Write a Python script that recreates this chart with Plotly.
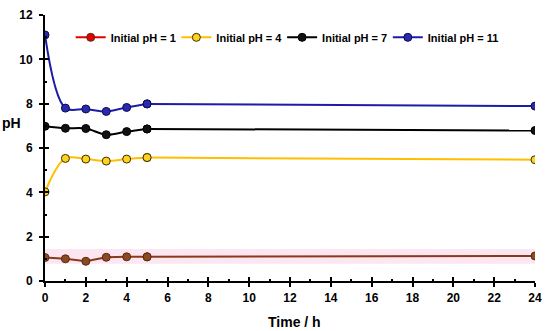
import plotly.graph_objects as go

time_h = [0, 1, 2, 3, 4, 5, 24]
ph_1 = [1.06, 1.00, 0.89, 1.07, 1.09, 1.09, 1.13]
ph_4 = [4.02, 5.53, 5.50, 5.41, 5.50, 5.57, 5.47]
ph_7 = [6.98, 6.89, 6.88, 6.60, 6.74, 6.86, 6.79]
ph_11 = [11.10, 7.80, 7.76, 7.65, 7.83, 7.99, 7.89]
series_names = ["Initial pH = 1", "Initial pH = 4", "Initial pH = 7", "Initial pH = 11"]
band_x = [0, 24]
band_low = [0.78, 0.78]
band_high = [1.44, 1.44]
x_ticks = list(range(0, 25, 2))
y_ticks = list(range(0, 13, 2))

FONT = "Liberation Sans, Arial, sans-serif"
SPLIT = 6  # index after the last densely sampled point (t = 5 h)

fig = go.Figure()

# pink band (on base axes, below data)
fig.add_trace(go.Scatter(x=band_x, y=band_low, mode="lines", line=dict(width=0),
                         showlegend=False, hoverinfo="skip"))
fig.add_trace(go.Scatter(x=band_x, y=band_high, mode="lines", line=dict(width=0),
                         fill="tonexty", fillcolor="#fce6f2", showlegend=False, hoverinfo="skip"))

styles = [
    # values, legend colour, line colour, marker fill, marker outline, shape
    (ph_1, "#e00000", "#8a3a1a", "#8a4a22", "#5a2a10", "linear"),
    (ph_4, "#ffbf00", "#ffbf00", "#ffd21f", "#3a3000", "spline"),
    (ph_7, "#000000", "#000000", "#111111", "#000000", "spline"),
    (ph_11, "#1c1ca6", "#1c1ca6", "#2a2ab0", "#0a0a50", "spline"),
]
legend_ids = ["legend", "legend2", "legend3", "legend4"]
for (vals, legc, lc, mc, oc, shape), name, lid in zip(styles, series_names, legend_ids):
    fig.add_trace(go.Scatter(
        x=[None], y=[None], name="<b>" + name + "</b>", mode="lines+markers",
        line=dict(color=legc, width=2), legend=lid,
        marker=dict(size=8, color=legc if legc == "#e00000" else mc, line=dict(color=oc, width=1)),
        xaxis="x2", yaxis="y2", hoverinfo="skip",
    ))
    fig.add_trace(go.Scatter(
        x=time_h[:SPLIT], y=vals[:SPLIT], name=name, mode="lines+markers", showlegend=False,
        line=dict(color=lc, width=2, shape=shape, smoothing=1),
        marker=dict(size=8, color=mc, line=dict(color=oc, width=1)),
        xaxis="x2", yaxis="y2",
    ))
    fig.add_trace(go.Scatter(
        x=time_h[SPLIT - 1:], y=vals[SPLIT - 1:], name=name, mode="lines+markers", showlegend=False,
        line=dict(color=lc, width=2),
        marker=dict(size=8, color=mc, line=dict(color=oc, width=1)),
        xaxis="x2", yaxis="y2",
    ))

line_common = dict(showgrid=False, zeroline=False, showline=True, linecolor="black",
                   linewidth=2, tickcolor="black", tickwidth=2)

leg_common = dict(orientation="h", y=0.916, xanchor="left", yanchor="middle",
                  bgcolor="rgba(0,0,0,0)", font=dict(family=FONT, size=11, color="black"))

fig.update_layout(
    width=550, height=331,
    margin=dict(l=45, r=9, t=8, b=50),
    paper_bgcolor="white", plot_bgcolor="white",
    font=dict(family=FONT, size=12, color="black"),
    xaxis=dict(range=[0, 24], tickvals=x_ticks, ticktext=[f"<b>{v}</b>" for v in x_ticks],
               ticks="outside", ticklen=4, ticklabelstandoff=1,
               tickfont=dict(family=FONT, size=12, color="black"), **line_common),
    yaxis=dict(range=[0, 12], tickvals=y_ticks, ticktext=[f"<b>{v}</b>" for v in y_ticks],
               ticks="outside", ticklen=4, ticklabelstandoff=4,
               tickfont=dict(family=FONT, size=12, color="black"), **line_common),
    xaxis2=dict(range=[0, 24], overlaying="x", tickvals=x_ticks, ticks="inside", ticklen=4,
                showticklabels=False,
                minor=dict(ticks="inside", ticklen=2, dtick=1, tickcolor="black", tickwidth=2),
                **line_common),
    yaxis2=dict(range=[0, 12], overlaying="y", tickvals=y_ticks, ticks="inside", ticklen=4,
                showticklabels=False,
                minor=dict(ticks="inside", ticklen=2, dtick=1, tickcolor="black", tickwidth=2),
                **line_common),
    legend=dict(x=0.0524, **leg_common),
    legend2=dict(x=0.2681, **leg_common),
    legend3=dict(x=0.4839, **leg_common),
    legend4=dict(x=0.6996, **leg_common),
    annotations=[
        dict(text="<b>pH</b>", xref="paper", yref="paper", x=-0.045, y=0.594,
             xanchor="right", yanchor="middle", showarrow=False,
             font=dict(family=FONT, size=14, color="black")),
        dict(text="<b>Time / h</b>", xref="paper", yref="paper", x=0.51, y=-0.117,
             xanchor="center", yanchor="top", showarrow=False,
             font=dict(family=FONT, size=14, color="black")),
    ],
)

fig.write_html(
    "out.html",
    config={"displayModeBar": False},
    post_script="document.body.style.margin='0';document.body.style.overflow='hidden';",
)
